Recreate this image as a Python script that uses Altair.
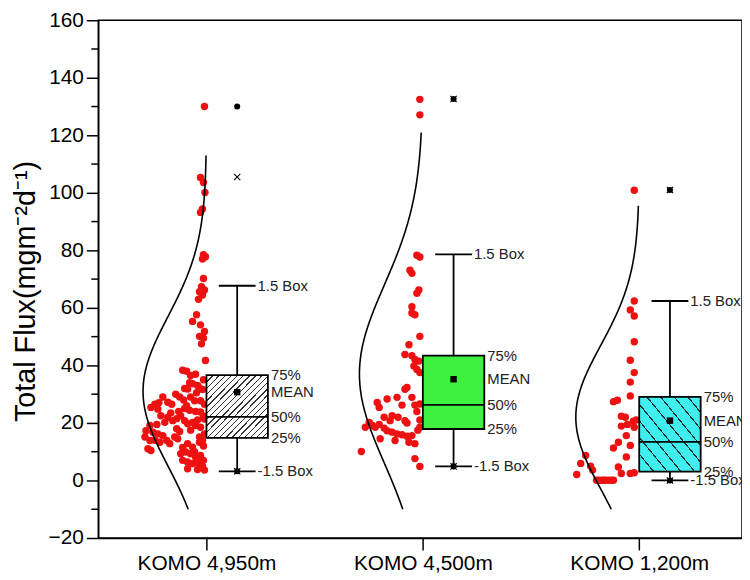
import json
import altair as alt
import pandas as pd

# ---------------- data ----------------
categories = ["KOMO 4,950m", "KOMO 4,500m", "KOMO 1,200m"]

# raw observations (value) and their horizontal jitter (pixels left of the category tick)
g1_values = [130.0, 105.3, 103.6, 100.1, 94.4, 93.2, 78.5, 77.8, 77.0, 70.2, 67.4, 66.2, 65.6, 64.5, 63.0,
             57.6, 55.3, 54.1, 51.8, 50.1, 49.5, 47.5, 41.7,
             38.3, 38.0, 36.9, 34.0, 33.6, 32.0, 31.8, 32.2, 31.6, 30.0, 29.0, 29.0, 27.2, 26.5, 29.0, 27.7,
             27.7, 26.5, 26.5, 25.4, 24.8, 25.0, 24.4, 24.0, 23.8, 22.4, 21.4, 22.5, 22.0, 20.8, 20.2, 22.5,
             20.8, 19.7, 20.2, 19.1, 19.1, 17.3, 16.8, 15.1, 13.9, 11.0, 10.4, 16.2, 15.6, 13.9, 13.3, 12.8,
             15.1, 14.5, 18.5, 16.2, 15.1, 12.8, 11.6, 13.3, 13.9, 9.3, 9.9, 9.3, 8.2, 8.7, 7.0, 6.4, 5.9,
             7.0, 7.0, 4.1, 3.8, 3.6,
             18.0, 17.0, 21.5, 23.5, 28.0, 30.5, 35.0, 33.0, 10.0, 11.5, 5.0, 6.0, 12.0, 17.5, 24.0, 26.0,
             27.0, 19.5, 14.0, 36.5, 21.0]
g1_jitter = [-2, -6, -3, -1.5, -4, -6, -3, -1, -4, -3, -5, -2, -7, -4, -8,
             -10, -14, -6, -2, -7, -3, -5, -1,
             -24, -20, -11, -17, -14, -22, -19, -7, -4, -31, -27, -44, -39, -35, -16, -12,
             -6, -2, -52, -56, -49, -22, -17, -11, -6, -3, -2, -46, -39, -34, -42, -26,
             -22, -19, -14, -11, -57, -61, -54, -62, -57, -59, -56, -49, -44, -40, -47, -37,
             -32, -29, -6, -2, -7, -19, -14, -7, -4, -26, -21, -16, -11, -6, -24, -19, -14,
             -9, -3, -19, -9, -2,
             -30, -27, -30, -36, -23, -10, -3, -9, -12, -24, -4, -8, -3, -16, -28, -20,
             -48, -50, -52, -16, -9]

g2_values = [132.5, 127.1, 78.3, 77.7, 73.1, 72.0, 66.2, 65.1, 60.4, 58.2, 57.6, 50.1, 47.2, 43.8, 43.4,
             42.1, 41.5, 39.8, 38.6, 37.5, 32.3, 31.7, 28.9, 28.9, 28.3, 27.1, 25.4, 26.2, 26.2, 26.6,
             22.5, 22.0, 20.8, 20.8, 20.0, 18.5, 20.2, 19.1, 18.5, 18.5, 18.2, 17.3, 16.8, 16.2, 15.9,
             15.4, 15.6, 14.5, 13.9, 13.3, 12.8, 10.1, 7.6, 4.9, 22.0, 19.5, 24.0, 21.0, 17.5]
g2_jitter = [-3, -3, -6, -3, -13, -11, -4, -6, -11, -11, -8, -3, -14, -18, -11,
             -8, -4, -9, -6, -3, -16, -18, -11, -26, -36, -46, -44, -21, -8, -3,
             -31, -39, -33, -18, -16, -3, -54, -51, -48, -58, -39, -36, -31, -26, -21,
             -16, -11, -43, -28, -14, -8, -62, -8, -3, -25, -44, -6, -3, -5]

g3_values = [100.9, 62.4, 59.3, 57.2, 48.2, 41.8, 37.5, 34.2, 29.4, 27.4, 27.9, 22.3, 22.0, 20.6, 18.5,
             18.9, 15.6, 12.2, 13.3, 11.3, 8.2, 8.7, 5.9, 5.0, 3.6, 4.7, 2.1, 2.4, 2.4, 2.7,
             0.1, 0.1, 0.1, 0.1, 0.1, 0.1, 0.1, 0.1, 21.0, 19.5]
g3_jitter = [-5, -5, -9, -5, -5, -9, -5, -9, -9, -26, -22, -18, -14, -6, -5,
             -18, -13, -9, -21, -26, -13, -54, -59, -49, -47, -21, -63, -18, -9, -5,
             -41, -38, -34, -31, -28, -26, -43, -36, -3, -12]

# box statistics (Origin box chart)
q1 = [14.8, 17.9, 3.1]
median = [22.1, 26.3, 13.4]
q3 = [36.6, 43.4, 29.1]
mean = [30.7, 35.2, 20.8]
whisk_lo = [3.2, 4.9, 0.0]
whisk_hi = [67.7, 78.6, 62.4]
max_v = [130.0, 132.6, 101.0]
p99 = [105.5, 132.6, 101.0]
min_v = [3.2, 4.9, 0.0]
p1 = [3.2, 4.9, 0.0]

# fitted normal curves (mean, sd, drawn range)
curve_mu = [31.0, 37.0, 22.0]
curve_sd = [26.0, 31.0, 25.0]
curve_lo = [-10.0, -10.0, -10.0]
curve_hi = [113.0, 121.0, 95.5]

y_ticks = list(range(-20, 161, 20))
y_minor = list(range(-10, 151, 20))

# ---------------- styling constants ----------------
FONT = "Liberation Sans"
PX_PER_UNIT = 649 / 2.975
BOX_W = 0.284
CAP_HALF = 0.085
CURVE_AMP = 0.293
RED = "#EE1111"

# ---------------- tables ----------------
pts = pd.DataFrame({
    "g": [1] * len(g1_values) + [2] * len(g2_values) + [3] * len(g3_values),
    "v": g1_values + g2_values + g3_values,
    "jit": g1_jitter + g2_jitter + g3_jitter,
})
box = pd.DataFrame({"g": [1, 2, 3], "q1": q1, "median": median, "q3": q3, "mean": mean,
                    "lo": whisk_lo, "hi": whisk_hi, "maxv": max_v, "p99": p99, "minv": min_v, "p1": p1})

xscale = alt.Scale(domain=[0.5, 3.475], nice=False, zero=False)
yscale = alt.Scale(domain=[-20, 160], nice=False, zero=False)

label_expr = json.dumps(categories) + "[datum.value - 1]"

x_axis = alt.Axis(values=[1, 2, 3], labelExpr=label_expr, title=None, grid=False,
                  tickSize=12, tickWidth=1.5, tickColor="black", domainColor="black", domainWidth=1.5,
                  labelFont=FONT, labelFontSize=21, labelColor="black", labelPadding=3)
y_axis = alt.Axis(values=y_ticks, grid=False, tickSize=12, tickWidth=1.5, tickColor="black",
                  domainColor="black", domainWidth=1.5, labelFont=FONT, labelFontSize=21,
                  labelColor="black", labelPadding=3,
                  title="Total Flux(mgm⁻²d⁻¹)", titleFont=FONT, titleFontSize=29,
                  titleFontWeight="normal", titleColor="black", titleX=-64, titleY=273,
                  titleAngle=-90, titleAlign="center", titleBaseline="alphabetic")


def X(field):
    return alt.X(field, type="quantitative", scale=xscale, axis=x_axis)


def Y(field):
    return alt.Y(field, type="quantitative", scale=yscale, axis=y_axis)


# minor ticks on y axis
minor = alt.Chart(pd.DataFrame({"t": y_minor})).mark_rule(color="black", strokeWidth=1.5).encode(
    y=Y("t"), x=alt.value(-7), x2=alt.value(0))

points = alt.Chart(pts).transform_calculate(xp=f"datum.g + datum.jit / {PX_PER_UNIT}").mark_circle(
    size=56, color=RED, opacity=1).encode(x=X("xp"), y=Y("v"))

curves = []
for i in range(3):
    c = alt.Chart(alt.sequence(curve_lo[i], curve_hi[i] + 0.01, 0.5, as_="v")).transform_calculate(
        xc=f"{i + 1} - {CURVE_AMP} * exp(-0.5 * pow((datum.v - {curve_mu[i]}) / {curve_sd[i]}, 2))"
    ).mark_line(color="black", strokeWidth=1.6).encode(x=X("xc"), y=Y("v"), order="v:Q")
    curves.append(c)

bbase = alt.Chart(box).transform_calculate(
    bx1="datum.g", bx2=f"datum.g + {BOX_W}", cx=f"datum.g + {BOX_W / 2}",
    c1=f"datum.g + {BOX_W / 2 - CAP_HALF}", c2=f"datum.g + {BOX_W / 2 + CAP_HALF}")

whisk = bbase.mark_rule(color="black", strokeWidth=1.8).encode(x=X("cx"), y=Y("lo"), y2="hi:Q")
cap_hi = bbase.mark_rule(color="black", strokeWidth=1.8).encode(x=X("c1"), x2="c2:Q", y=Y("hi"))
cap_lo = bbase.mark_rule(color="black", strokeWidth=1.8).encode(x=X("c1"), x2="c2:Q", y=Y("lo"))


def stripes(n, frac, line_col, bg_col, x1, y1, x2, y2):
    stops = []
    for k in range(n):
        a = k / n
        b = (k + frac) / n
        e = (k + 1) / n
        stops += [{"offset": a, "color": line_col}, {"offset": b, "color": line_col},
                  {"offset": b, "color": bg_col}, {"offset": e, "color": bg_col}]
    return {"gradient": "linear", "x1": x1, "y1": y1, "x2": x2, "y2": y2, "stops": stops}


fills = [
    stripes(20, 0.22, "#333333", "#ffffff", 0, 0, 1, 1),
    "#40F040",
    stripes(9, 0.11, "#1a3030", "#40EEEE", 0, 1, 1, 0),
]

boxes = []
for i in range(3):
    boxes.append(bbase.transform_filter(f"datum.g == {i + 1}").mark_rect(
        fill=fills[i], stroke="black", strokeWidth=1.8).encode(
        x=X("bx1"), x2="bx2:Q", y=Y("q1"), y2="q3:Q"))

med = bbase.mark_rule(color="black", strokeWidth=1.8).encode(x=X("bx1"), x2="bx2:Q", y=Y("median"))

mean_pt = bbase.mark_square(size=42, color="black", opacity=1).encode(x=X("cx"), y=Y("mean"))

dots = bbase.transform_fold(["maxv", "minv"], as_=["k", "val"]).mark_circle(
    size=38, color="black", opacity=1).encode(x=X("cx"), y=Y("val"))

crosses = bbase.transform_fold(["p99", "p1"], as_=["k", "val"]).mark_point(
    shape="M-1,-1L1,1M1,-1L-1,1", size=40, color="black", strokeWidth=1.1, filled=False, opacity=1).encode(
    x=X("cx"), y=Y("val"))

box_text = bbase.transform_fold(["q3", "mean", "median", "q1"], as_=["k", "val"]).transform_calculate(
    lab="{'q3': '75%', 'mean': 'MEAN', 'median': '50%', 'q1': '25%'}[datum.k]").mark_text(
    align="left", baseline="middle", dx=3, font=FONT, fontSize=15, color="#222222").encode(
    x=X("bx2"), y=Y("val"), text="lab:N")

wh_text = bbase.transform_fold(["hi", "lo"], as_=["k", "val"]).transform_calculate(
    lab="datum.k == 'hi' ? '1.5 Box' : '-1.5 Box'").mark_text(
    align="left", baseline="middle", dx=2, font=FONT, fontSize=15, color="#222222").encode(
    x=X("c2"), y=Y("val"), text="lab:N")

chart = alt.layer(
    minor, points, *curves, whisk, cap_hi, cap_lo, *boxes, med, mean_pt, dots, crosses, box_text, wh_text
).properties(
    width=649, height=522,
    autosize=alt.AutoSizeParams(type="none"),
    padding={"left": 91, "top": 10, "right": 0, "bottom": 40},
    background="white",
).configure_view(stroke="black", strokeWidth=1.5)

chart.save("out.html", embed_options={"renderer": "svg", "actions": False})
